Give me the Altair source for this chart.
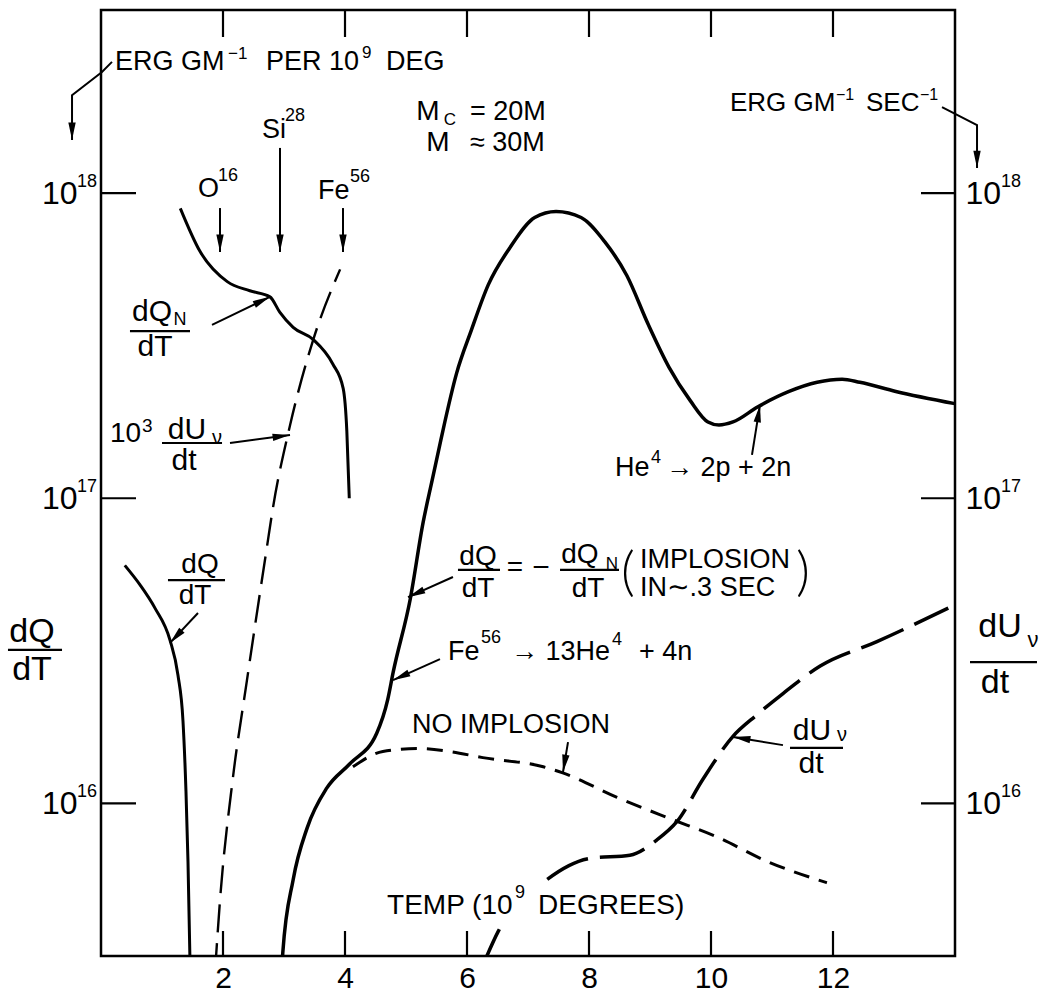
import math
import altair as alt
import pandas as pd

FONT = "Liberation Sans, DejaVu Sans, sans-serif"

# ---------------- axes ----------------
X_MIN, X_MAX = 0, 14          # temperature, 10^9 K
LOG_MIN, LOG_MAX = 15.5, 18.6  # log10 of y
W, H = 854, 946
x_ticks = [2, 4, 6, 8, 10, 12]
y_ticks = [1e16, 1e17, 1e18]
y_exps = ["16", "17", "18"]

# ---------------- curves (x = T in 1e9 K, value = log10 y) ----------------
# dQ/dT = -dQ_N/dT  (implosion)  solid
main_T = [2.96, 2.98, 3.15, 3.38, 3.70, 4.08, 4.52, 4.70, 4.79, 5.07, 5.28, 5.43, 5.57, 5.83,
          6.07, 6.35, 6.70, 7.11, 7.46, 7.87, 8.26, 8.62, 8.97, 9.31, 9.66, 9.95, 10.13,
          10.36, 10.77, 11.28, 11.74, 12.15, 12.44, 13.03, 14.0]
main_log = [15.45, 15.51, 15.75, 15.92, 16.05, 16.13, 16.23, 16.34, 16.43, 16.67, 16.92, 17.06,
            17.19, 17.41, 17.55, 17.70, 17.82, 17.92, 17.94, 17.92, 17.84, 17.73, 17.57, 17.43,
            17.32, 17.25, 17.24, 17.25, 17.30, 17.35, 17.38, 17.39, 17.38, 17.35, 17.31]
# dQ_N/dT  solid
qn_T = [1.30, 1.62, 2.07, 2.44, 2.77, 2.93, 3.15, 3.48, 3.80, 3.97, 4.03, 4.07]
qn_log = [17.95, 17.81, 17.71, 17.68, 17.66, 17.61, 17.56, 17.52, 17.44, 17.36, 17.22, 17.00]
# dQ/dT (low temperature)  solid
q_T = [0.39, 0.64, 0.885, 1.131, 1.262, 1.344, 1.393, 1.426, 1.462]
q_log = [16.78, 16.716, 16.64, 16.535, 16.42, 16.27, 16.04, 15.81, 15.45]
# 10^3 dU_nu/dt  dashed
u3_T = [1.87, 1.95, 2.16, 2.39, 2.72, 2.82, 3.10, 3.48, 3.92]
u3_log = [15.45, 15.68, 16.08, 16.40, 16.84, 16.97, 17.24, 17.52, 17.75]
# no implosion  short dashes
ni_T = [4.13, 4.62, 5.18, 5.72, 6.26, 7.25, 7.57, 8.46, 9.33, 10.10, 10.92, 11.9]
ni_log = [16.12, 16.17, 16.18, 16.17, 16.15, 16.12, 16.10, 16.02, 15.95, 15.89, 15.81, 15.74]
# dU_nu/dt  long dashes
u_T = [6.22, 6.51, 7.31, 8.02, 8.67, 9.11, 9.44, 9.87, 10.36, 10.75, 11.18, 11.79, 12.72, 13.89]
u_log = [15.45, 15.58, 15.75, 15.82, 15.83, 15.88, 15.94, 16.08, 16.22, 16.29, 16.36, 16.45,
         16.53, 16.64]

# ---------------- annotations (data units: T, log10 y) ----------------
arrow_paths = {
    "erg_left": [(0.180, 18.430), (0.016, 18.397), (-0.475, 18.321), (-0.475, 18.174)],
    "erg_right": [(13.787, 18.282), (14.361, 18.223), (14.361, 18.082)],
    "o16": [(1.951, 17.951), (1.951, 17.807)],
    "si28": [(2.934, 18.148), (2.934, 17.807)],
    "fe56": [(3.967, 17.951), (3.967, 17.807)],
    "dqn": [(1.820, 17.568), (2.770, 17.660)],
    "u3": [(2.115, 17.181), (3.098, 17.207)],
    "dq_left": [(1.590, 16.624), (1.131, 16.526)],
    "eq": [(5.770, 16.742), (5.033, 16.676)],
    "fe_he": [(5.557, 16.473), (4.787, 16.404)],
    "noimp": [(7.656, 16.201), (7.574, 16.103)],
    "du": [(11.180, 16.191), (10.361, 16.218)],
    "he": [(10.672, 17.142), (10.803, 17.306)],
}

# (text, T, log y, font size)  -- left aligned body text
texts_left = [
    ("ERG GM", 0.230, 18.430, 27), ("PER 10", 2.705, 18.430, 27), ("DEG", 4.672, 18.430, 27),
    ("ERG GM", 10.311, 18.295, 26), ("SEC", 12.541, 18.295, 26),
    ("=  20M", 6.049, 18.266, 27),
    ("≈  30M", 6.049, 18.164, 27),
    ("Si", 2.639, 18.207, 27),
    ("O", 1.590, 18.013, 27),
    ("Fe", 3.557, 18.007, 27),
    ("10", 0.148, 17.211, 28),
    ("IMPLOSION", 8.836, 16.798, 27),
    ("IN∼.3 SEC", 8.836, 16.705, 27),
    ("Fe", 5.689, 16.496, 27), ("→ 13He", 6.721, 16.496, 27), ("+ 4n", 8.820, 16.496, 27),
    ("NO IMPLOSION", 5.098, 16.257, 27),
    ("He", 8.426, 17.099, 27), ("→ 2p + 2n", 9.262, 17.099, 27),
    ("TEMP (10", 4.689, 15.664, 28), ("DEGREES)", 7.164, 15.664, 28),
]
# superscripts, left aligned
sups = [
    ("−1", 2.082, 18.456, 17), ("9", 4.279, 18.459, 17),
    ("−1", 12.049, 18.321, 16), ("−1", 13.426, 18.321, 16),
    ("28", 3.016, 18.253, 18),
    ("16", 1.918, 18.056, 18),
    ("56", 4.082, 18.053, 18),
    ("3", 0.672, 17.237, 19),
    ("56", 6.230, 16.542, 18), ("4", 8.377, 16.535, 18),
    ("4", 9.016, 17.132, 18),
    ("9", 6.787, 15.706, 18),
]
texts_center = [
    ("M", 5.361, 18.266, 28),
    ("C", 5.720, 18.240, 17),
    ("M", 5.525, 18.164, 28),
    ("dQ", 0.836, 17.610, 30),
    ("N", 1.295, 17.584, 18),
    ("dT", 0.885, 17.496, 30),
    ("dU", 1.410, 17.224, 30),
    ("ν", 1.900, 17.197, 20),
    ("dt", 1.361, 17.122, 30),
    ("dQ", 1.623, 16.781, 28),
    ("dT", 1.541, 16.680, 28),
    ("dQ", 6.180, 16.806, 28),
    ("dT", 6.180, 16.704, 28),
    ("=", 6.787, 16.771, 28),
    ("−", 7.213, 16.771, 30),
    ("dQ", 7.852, 16.814, 28),
    ("N", 8.377, 16.783, 17),
    ("dT", 7.984, 16.704, 28),
    ("dU", 11.656, 16.237, 30),
    ("ν", 12.148, 16.224, 20),
    ("dt", 11.639, 16.129, 30),
    ("dQ", -1.131, 16.562, 34),
    ("dT", -1.131, 16.437, 34),
    ("dU", 14.738, 16.578, 34),
    ("ν", 15.279, 16.535, 22),
    ("dt", 14.656, 16.395, 34),
]
parens = [("(", 8.639, 16.752, 54), (")", 11.508, 16.752, 54)]
# fraction bars: (T1, T2, log y)
bars = [
    (0.475, 1.459, 17.548),
    (1.000, 1.984, 17.181),
    (1.098, 2.033, 16.732),
    (5.852, 6.541, 16.765),
    (7.525, 8.492, 16.765),
    (11.295, 12.164, 16.182),
    (-1.525, -0.639, 16.503),
    (14.246, 15.344, 16.463),
]
# part of the dU/dt dashes hidden by the TEMP label: (T1, T2, log1, log2)
masks = [(6.54, 7.24, 15.59, 15.74)]

# ---------------- scales ----------------
xs = alt.Scale(domain=[X_MIN, X_MAX], nice=False, zero=False)
ys = alt.Scale(type="log", domain=[10 ** LOG_MIN, 10 ** LOG_MAX], nice=False)
XN = lambda f="T": alt.X(f + ":Q", scale=xs, axis=None)
YN = lambda f="Q": alt.Y(f + ":Q", scale=ys, axis=None)


def curve(T, L, dash=None, width=3.0):
    df = pd.DataFrame({"T": T, "Q": [10 ** v for v in L]})
    kw = dict(color="black", strokeWidth=width, interpolate="monotone", clip=True)
    if dash:
        kw["strokeDash"] = dash
    return alt.Chart(df).mark_line(**kw).encode(x=XN(), y=YN())


layers = []
layers.append(curve(main_T, main_log, width=3.5))
layers.append(curve(qn_T, qn_log, width=3.0))
layers.append(curve(q_T, q_log, width=3.0))
layers.append(curve(u3_T, u3_log, dash=[28, 11], width=2.4))
layers.append(curve(ni_T, ni_log, dash=[16, 10], width=3.0))
layers.append(curve(u_T, u_log, dash=[46, 12], width=3.5))

mask_df = pd.DataFrame({"T": [m[0] for m in masks], "T2": [m[1] for m in masks],
                        "Q": [10 ** m[2] for m in masks], "Q2": [10 ** m[3] for m in masks]})
layers.append(alt.Chart(mask_df).mark_rect(color="white").encode(
    x=XN(), x2="T2:Q", y=YN(), y2="Q2:Q"))

# ticks (inside) + axes
xt = pd.DataFrame({"T": x_ticks})
yt = pd.DataFrame({"Q": y_ticks, "e": y_exps})
axis_common = dict(domain=False, ticks=False, grid=False, title=None, labelFont=FONT,
                   labelColor="black")
layers.append(alt.Chart(xt).mark_rule(color="black", strokeWidth=2.2).encode(
    x=alt.X("T:Q", scale=xs, axis=alt.Axis(orient="bottom", values=x_ticks, format="d",
                                           labelPadding=7, labelFontSize=30, **axis_common)),
    y=alt.value(H), y2=alt.value(H - 25)))
layers.append(alt.Chart(xt).mark_rule(color="black", strokeWidth=2.2).encode(
    x=XN(), y=alt.value(0), y2=alt.value(27)))
layers.append(alt.Chart(yt).mark_rule(color="black", strokeWidth=2.2).encode(
    y=alt.Y("Q:Q", scale=ys, axis=alt.Axis(orient="left", values=y_ticks, labelExpr="'10'",
                                           labelPadding=24, labelFontSize=32, **axis_common)),
    x=alt.value(0), x2=alt.value(35)))
layers.append(alt.Chart(yt).mark_rule(color="black", strokeWidth=2.2).encode(
    y=alt.Y("Q:Q", scale=ys, axis=alt.Axis(orient="right", values=y_ticks, labelExpr="'10'",
                                           labelPadding=10, labelFontSize=32, **axis_common)),
    x=alt.value(W - 34), x2=alt.value(W)))
# exponents of the tick labels
for xpos in (-24, W + 46):
    layers.append(alt.Chart(yt).mark_text(align="left", baseline="middle", dy=-11, font=FONT,
                                          fontSize=18, color="black").encode(
        y=YN(), x=alt.value(xpos), text="e:N"))

# arrow shafts and heads
sx = W / (X_MAX - X_MIN)
sy = H / (LOG_MAX - LOG_MIN)
shaft_rows, head_rows = [], []
for name, pts in arrow_paths.items():
    for i, (t, l) in enumerate(pts):
        shaft_rows.append({"id": name, "o": i, "T": t, "Q": 10 ** l})
    (t1, l1), (t2, l2) = pts[-2], pts[-1]
    dx = (t2 - t1) * sx
    dy = -(l2 - l1) * sy
    ang = math.degrees(math.atan2(dx, -dy)) % 360
    head_rows.append({"T": t2, "Q": 10 ** l2, "ang": ang})
layers.append(alt.Chart(pd.DataFrame(shaft_rows)).mark_line(
    color="black", strokeWidth=2, clip=False).encode(
    x=XN(), y=YN(), detail="id:N", order="o:Q"))
head_path = "M0,0 L0.36,1.7 L-0.36,1.7 Z"
layers.append(alt.Chart(pd.DataFrame(head_rows)).mark_point(
    shape=head_path, filled=True, color="black", opacity=1, size=420, strokeWidth=0).encode(
    x=XN(), y=YN(), angle=alt.Angle("ang:Q", scale=None)))

# fraction bars
bar_df = pd.DataFrame({"T": [b[0] for b in bars], "T2": [b[1] for b in bars],
                       "Q": [10 ** b[2] for b in bars]})
layers.append(alt.Chart(bar_df).mark_rule(color="black", strokeWidth=2.2).encode(
    x=XN(), x2="T2:Q", y=YN()))


def text_layer(items, align, font=FONT, weight="normal"):
    df = pd.DataFrame({"txt": [i[0] for i in items], "T": [i[1] for i in items],
                       "Q": [10 ** i[2] for i in items], "fs": [i[3] for i in items]})
    return alt.Chart(df).mark_text(align=align, baseline="middle", font=font,
                                   fontWeight=weight, color="black").encode(
        x=XN(), y=YN(), text="txt:N", size=alt.Size("fs:Q", scale=None))


layers.append(text_layer(texts_left, "left"))
layers.append(text_layer(sups, "left"))
layers.append(text_layer(texts_center, "center"))
layers.append(text_layer(parens, "center", font="Lato, DejaVu Sans", weight=300))

chart = alt.layer(*layers).properties(
    width=W, height=H,
    padding={"left": 101, "top": 10, "right": 84, "bottom": 37},
    autosize=alt.AutoSizeParams(type="none"),
    background="white",
).resolve_axis(x="independent", y="independent").configure_view(
    stroke="black", strokeWidth=2.5)

chart.save("out.html", embed_options={"renderer": "svg", "actions": False})
